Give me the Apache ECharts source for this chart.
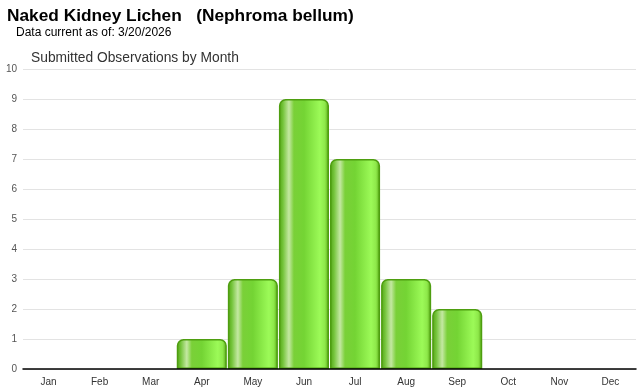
<!DOCTYPE html>
<html><head><meta charset="utf-8">
<script src="https://cdn.jsdelivr.net/npm/echarts@6/dist/echarts.min.js"></script>
<style>html,body{margin:0;padding:0;background:#fff}#c{width:640px;height:390px}</style>
</head><body><div id="c"></div>
<script>
const months = ['Jan','Feb','Mar','Apr','May','Jun','Jul','Aug','Sep','Oct','Nov','Dec'];
const observations = [0,0,0,1,3,9,7,3,2,0,0,0];
const yTicks = [0,1,2,3,4,5,6,7,8,9,10];

const chart = echarts.init(document.getElementById('c'), null, {renderer:'canvas'});
const grad = new echarts.graphic.LinearGradient(0,0,1,0,[
  {offset:0, color:'#52a214'},
  {offset:0.08, color:'#74c43a'},
  {offset:0.2, color:'#c4e8a2'},
  {offset:0.3, color:'#7ad038'},
  {offset:0.5, color:'#74d434'},
  {offset:0.82, color:'#9cfa58'},
  {offset:0.92, color:'#8ee84a'},
  {offset:1, color:'#52a210'}
]);
chart.setOption({
  animation:false,
  title:[
    {text:'Naked Kidney Lichen   (Nephroma bellum)', left:7, top:8, padding:0,
     textStyle:{fontFamily:'Liberation Sans, Arial', fontSize:17.3, fontWeight:'bold', color:'#000'}},
    {text:'Data current as of: 3/20/2026', left:16, top:27, padding:0,
     textStyle:{fontFamily:'Liberation Sans, Arial', fontSize:12, fontWeight:'normal', color:'#000'}},
    {text:'Submitted Observations by Month', left:31, top:51, padding:0,
     textStyle:{fontFamily:'Liberation Sans, Arial', fontSize:13.8, fontWeight:'normal', color:'#333'}}
  ],
  grid:{left:23, right:4, top:69, bottom:21, containLabel:false},
  xAxis:{type:'category', data:months, z:10,
    axisLine:{lineStyle:{color:'#000', width:1.5}},
    axisTick:{alignWithLabel:true, length:4, lineStyle:{color:'#ddd'}},
    axisLabel:{color:'#333', fontSize:10, fontFamily:'Liberation Sans, Arial', margin:8}},
  yAxis:{type:'value', min:yTicks[0], max:yTicks[yTicks.length-1], interval:1,
    axisLine:{show:false}, axisTick:{show:false},
    axisLabel:{color:'#555', fontSize:10, fontFamily:'Liberation Sans, Arial', margin:6},
    splitLine:{lineStyle:{color:'#e3e3e3'}}},
  series:[{type:'bar', barCategoryGap:'2%',
    data:observations.map(v => v === 0 ? '-' : v),
    itemStyle:{color:grad, borderColor:'#4e9e10', borderWidth:1.5, borderRadius:[6,6,0,0]}}]
});
</script></body></html>
